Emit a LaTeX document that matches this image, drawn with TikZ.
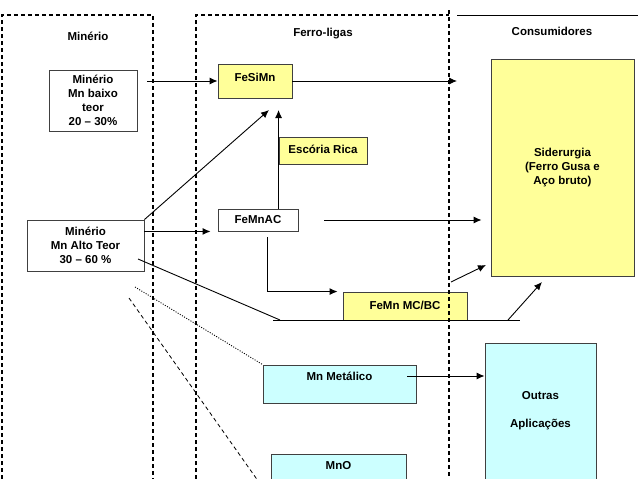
\documentclass[tikz,border=0pt]{standalone}
\usepackage{fontspec}
\setmainfont{Liberation Sans}
\usetikzlibrary{arrows.meta}
\definecolor{amarelo}{HTML}{FFFF99}
\definecolor{ciano}{HTML}{CCFFFF}

\begin{document}
\begin{tikzpicture}[x=1pt,y=-1pt]

\tikzset{every node/.style = {font=\fontsize{11.5}{14}\selectfont\bfseries}}
\tikzset{box/.style = {shape=rectangle,draw=black!75,line width=0.9pt,inner sep=0pt,align=center}}
\tikzset{one/.style = {text height=8pt,text depth=2pt}}
\tikzset{flow/.style = {->,> = {Latex[length=8pt,width=7pt]},line width=0.9pt}}
\tikzset{zone/.style = {dash pattern=on 4pt off 3pt,line width=1.2pt}}

\useasboundingbox (0,0) rectangle (641,479);
\clip (0,0) rectangle (641,479);

%headers
\node[one,inner sep=0pt] (hmin) at (88,37) {Minério};
\node[one,inner sep=0pt] (hfer) at (323,33) {Ferro-ligas};
\node[one,inner sep=0pt] (hcon) at (552,32) {Consumidores};

%boxes
\node[box,minimum width=88,minimum height=61] (baixo) at (93,100.5) {Minério\\Mn baixo\\teor\\20 -- 30\%};
\node[box,minimum width=117,minimum height=51] (alto) at (85.5,245.5) {Minério\\Mn Alto Teor\\30 -- 60 \%};
\node[box,fill=amarelo,minimum width=74,minimum height=34,text height=8pt,text depth=8pt] (fesimn) at (255,81) {FeSiMn};
\node[box,one,fill=amarelo,minimum width=88,minimum height=27] (escoria) at (323,150.5) {Escória Rica};
\node[box,one,minimum width=80,minimum height=22] (femnac) at (258,220) {FeMnAC};
\node[box,one,fill=amarelo,minimum width=124,minimum height=28] (femnmc) at (405,306) {FeMn MC/BC};
\node[box,fill=amarelo,minimum width=143,minimum height=217] (sid) at (562.5,167.5) {Siderurgia\\(Ferro Gusa e\\Aço bruto)};
\node[box,fill=ciano,minimum width=153,minimum height=38,text height=8pt,text depth=16pt] (mnmet) at (339.5,384) {Mn Metálico};
\node[box,fill=ciano,minimum width=111,anchor=north,text height=56pt,text depth=94pt] (outras) at (540.5,343) {\begin{tabular}[t]{c}Outras\\[14pt]Aplicações\end{tabular}};
\node[box,fill=ciano,minimum width=135,anchor=north,text height=15pt,text depth=25pt] (mno) at (338.5,454) {MnO};

%zones
\draw[zone] (2,479) -- (2,15) -- (153,15) -- (153,479);
\draw[zone] (196,479) -- (196,15) -- (449,15);
\draw[zone] (449,10) -- (449,479);
\draw[line width=0.9pt] (457,15) -- (638,15);

%free ends
\coordinate (bx) at (147,81);
\coordinate (fx) at (457,81);
\coordinate (sub) at (269,110);
\coordinate (alto1) at (138,259);
\coordinate (alto2) at (135,287);
\coordinate (alto3) at (129,298);
\coordinate (fd) at (267,237);
\coordinate (lin0) at (273,320);
\coordinate (lin1) at (280,320);
\coordinate (lin2) at (520,320);
\coordinate (up1) at (508,320);
\coordinate (up2) at (542,282);
\coordinate (mc1) at (451,282);
\coordinate (mc2) at (486,265);
\coordinate (met1) at (407,376);
\coordinate (mno1) at (268,495);

%arrows
\draw[flow] (bx) -- (fesimn.west);
\draw[flow] (fesimn.east) -- (fx);
\draw[flow] (alto.north east) -- (sub);
\draw[flow] (femnac.north -| escoria.west) -- (escoria.west |- sub);
\draw[flow] (alto.east |- femnac.south) -- ([xshift=-7pt]femnac.south west);
\draw[flow] ([xshift=26pt]femnac.east) -- ([xshift=-9pt]sid.west |- femnac.east);
\draw[flow] (fd) -- (fd |- femnmc.north) -- ([xshift=-5pt]femnmc.north west);
\draw[line width=0.9pt] (alto1) -- (lin1);
\draw[line width=0.9pt] (lin0) -- (lin2);
\draw[flow] (up1) -- (up2);
\draw[flow] (mc1) -- (mc2);
\draw[line width=0.9pt,dash pattern=on 1pt off 1.5pt] (alto2) -- (mnmet.north west);
\draw[line width=0.8pt,dash pattern=on 4pt off 3pt] (alto3) -- (mno1);
\draw[flow] (met1) -- (outras.west |- met1);

\end{tikzpicture}
\end{document}
